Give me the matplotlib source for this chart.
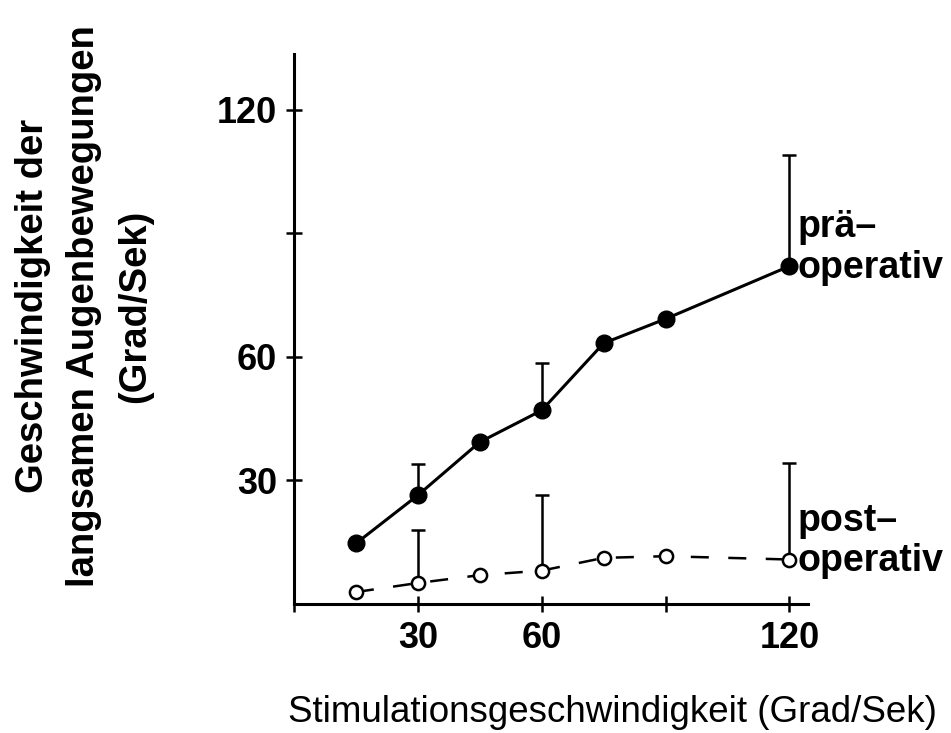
import matplotlib
matplotlib.use("Agg")
import matplotlib.pyplot as plt

# stimulation speed (Grad/Sek)
speeds = [15, 30, 45, 60, 75, 90, 120]
# slow eye movement speed, before and after the operation
pre_op = [14.7, 26.4, 39.3, 47.0, 63.3, 69.2, 82.0]
post_op = [2.9, 5.1, 7.0, 8.1, 11.2, 11.6, 10.8]

# upward error bars (only at some speeds)
err_speeds = [30, 60, 120]
pre_err = [7.5, 11.5, 27.0]
post_err = [12.9, 18.3, 23.5]

x_ticks = [0, 30, 60, 90, 120]
x_ticklabels = ["", "30", "60", "", "120"]
y_ticks = [30, 60, 90, 120]
y_ticklabels = ["30", "60", "", "120"]

plt.rcParams['font.family'] = ['Liberation Sans', 'DejaVu Sans']
plt.rcParams['lines.scale_dashes'] = False

fig = plt.figure(figsize=(9.51, 7.33), dpi=100)
ax = fig.add_axes([294 / 951, 129 / 733, 514 / 951, 550 / 733])


def up_bars(base, err):
    # vertical bar from the point up, cap only at the top
    lookup = dict(zip(speeds, base))
    lows = [lookup[s] for s in err_speeds]
    tops = [lo + e for lo, e in zip(lows, err)]
    ax.vlines(err_speeds, lows, tops, color='black', linewidth=1.8)
    ax.plot(err_speeds, tops, linestyle='none', marker='_', markersize=10,
            markeredgewidth=1.8, color='black')


up_bars(pre_op, pre_err)
up_bars(post_op, post_err)

# pre-operative: solid line, filled circles
ax.plot(speeds, pre_op, color='black', linewidth=2.2, marker='o',
        markersize=12, markerfacecolor='black', zorder=3)

# post-operative: dashed line, open circles
ax.plot(speeds, post_op, color='black', linewidth=1.8, dashes=(13, 14),
        marker='o', markersize=9.5, markerfacecolor='white',
        markeredgewidth=1.8, zorder=3)

# series labels next to the last point
for vals, top_word in [(pre_op, "prä–"), (post_op, "post–")]:
    ax.annotate("operativ", xy=(speeds[-1], vals[-1]), xytext=(6, -1),
                textcoords='offset points', ha='left', va='center',
                fontsize=27, fontweight='bold', annotation_clip=False)
    ax.annotate(top_word, xy=(speeds[-1], vals[-1]), xytext=(6, 28),
                textcoords='offset points', ha='left', va='center',
                fontsize=27, fontweight='bold', annotation_clip=False)

ax.set_xlim(0, 124.5)
ax.set_ylim(0, 133.5)
ax.set_xticks(x_ticks)
ax.set_xticklabels(x_ticklabels)
ax.set_yticks(y_ticks)
ax.set_yticklabels(y_ticklabels)
ax.tick_params(direction='inout', length=12, width=1.8, labelsize=26, pad=6)
for lab in ax.get_xticklabels() + ax.get_yticklabels():
    lab.set_fontweight('bold')

for side in ['top', 'right']:
    ax.spines[side].set_visible(False)
for side in ['left', 'bottom']:
    ax.spines[side].set_linewidth(2.2)

fig.text(288 / 951, 1 - 713 / 733, "Stimulationsgeschwindigkeit (Grad/Sek)",
         ha='left', va='center', fontsize=26.5)
fig.text(84 / 951, 1 - 306 / 733,
         "Geschwindigkeit der\nlangsamen Augenbewegungen\n(Grad/Sek)",
         ha='center', va='center', rotation=90, fontsize=27.5,
         fontweight='bold', linespacing=1.55, multialignment='center')

fig.savefig("out.png", dpi=100)
